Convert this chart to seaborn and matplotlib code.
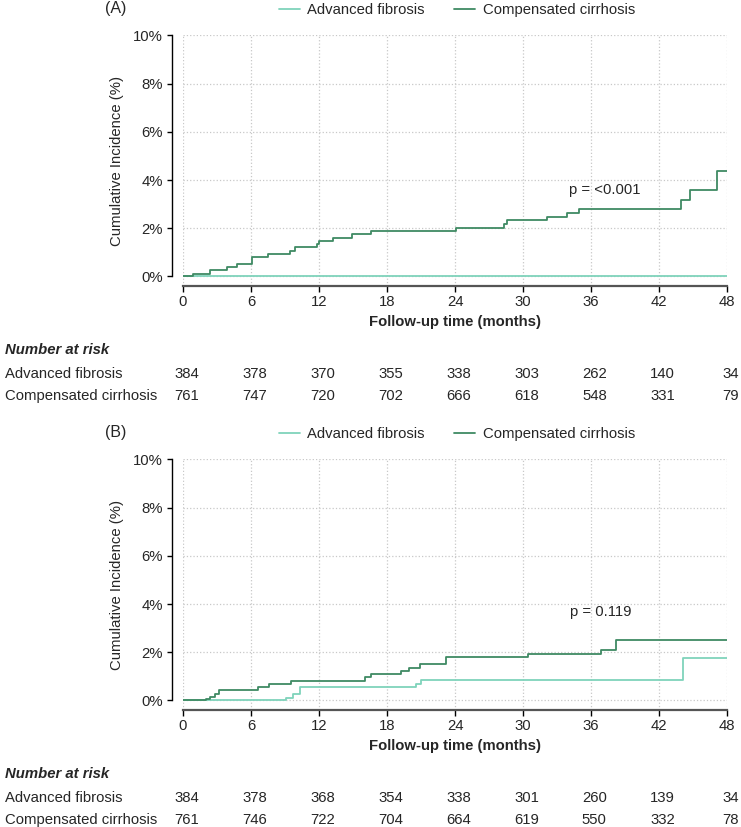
import numpy as np
import pandas as pd
import matplotlib
matplotlib.use("Agg")
import matplotlib.pyplot as plt
import matplotlib.transforms as mtrans
from matplotlib.lines import Line2D
import seaborn as sns

# ---- data ----
groups = ["Advanced fibrosis", "Compensated cirrhosis"]
colors = {"Advanced fibrosis": "#7fd3bb", "Compensated cirrhosis": "#3f8a63"}

# panel A
a_af_t = [0, 48]
a_af_v = [0, 0]
a_cc_t = [0, 0.9, 2.4, 3.9, 4.8, 6.1, 7.5, 9.4, 9.9, 11.8, 12.0, 13.2, 14.9, 16.6,
          24.1, 28.3, 28.6, 32.1, 33.9, 34.9, 43.9, 44.7, 47.1, 48]
a_cc_v = [0, 0.11, 0.25, 0.39, 0.53, 0.80, 0.93, 1.05, 1.20, 1.33, 1.47, 1.60, 1.74, 1.88,
          1.99, 2.16, 2.32, 2.46, 2.63, 2.79, 3.15, 3.57, 4.36, 4.36]
a_pval = "p = <0.001"
a_risk_af = [384, 378, 370, 355, 338, 303, 262, 140, 34]
a_risk_cc = [761, 747, 720, 702, 666, 618, 548, 331, 79]

# panel B
b_af_t = [0, 9.1, 9.7, 10.3, 20.6, 21.0, 44.1, 48]
b_af_v = [0, 0.10, 0.28, 0.55, 0.70, 0.83, 1.77, 1.77]
b_cc_t = [0, 2.0, 2.4, 2.8, 3.2, 6.6, 7.6, 9.5, 16.1, 16.6, 19.2, 19.9, 20.9, 23.2,
          30.4, 36.9, 38.2, 48]
b_cc_v = [0, 0.07, 0.14, 0.28, 0.41, 0.55, 0.69, 0.82, 0.96, 1.10, 1.22, 1.36, 1.49, 1.80,
          1.94, 2.10, 2.49, 2.49]
b_pval = "p = 0.119"
b_risk_af = [384, 378, 368, 354, 338, 301, 260, 139, 34]
b_risk_cc = [761, 746, 722, 704, 664, 619, 550, 332, 78]

xticks = [0, 6, 12, 18, 24, 30, 36, 42, 48]
yticks = [0, 2, 4, 6, 8, 10]

sns.set_theme(style="white")
plt.rcParams["font.family"] = ["Liberation Sans", "DejaVu Sans"]
FS = 10.7
plt.rcParams["font.size"] = FS

W, H = 741, 827
fig = plt.figure(figsize=(W / 100, H / 100), dpi=100)


def fy(px):
    return 1 - px / H


def draw_panel(top_px, tag, af_t, af_v, cc_t, cc_v, pval, p_xy, risk_af, risk_cc):
    bottom_px = top_px + 251
    ax = fig.add_axes([183 / W, fy(bottom_px), 544 / W, 251 / H])
    df = pd.concat([
        pd.DataFrame({"t": af_t, "ci": af_v, "group": groups[0]}),
        pd.DataFrame({"t": cc_t, "ci": cc_v, "group": groups[1]}),
    ])
    sns.lineplot(data=df, x="t", y="ci", hue="group", palette=colors, estimator=None,
                 drawstyle="steps-post", lw=1.3, legend=False, ax=ax, zorder=3)
    ax.set_xlim(0, 48)
    ax.set_ylim(-0.4, 10.02)
    ax.set_xticks(xticks)
    ax.set_yticks(yticks)
    ax.set_yticklabels([f"{v}%" for v in yticks])
    ax.grid(True, ls=":", color="#c8c8c8", lw=0.9)
    for s in ["top", "right"]:
        ax.spines[s].set_visible(False)
    # 11 px offset -> points
    ax.spines["left"].set_position(("outward", 11 * 0.72))
    ax.spines["left"].set_bounds(0, 10)
    ax.spines["left"].set_color("black")
    ax.spines["left"].set_linewidth(1.0)
    ax.spines["bottom"].set_color("#555555")
    ax.spines["bottom"].set_linewidth(1.6)
    ax.tick_params(axis="x", bottom=True, length=4.5, width=1.0, pad=2, labelsize=FS,
                   color="black")
    ax.tick_params(axis="y", left=True, length=3.6, width=1.0, pad=3, labelsize=FS,
                   color="black")
    ax.set_xlabel("Follow-up time (months)", fontweight="bold", fontsize=FS, labelpad=4)
    ax.set_ylabel("Cumulative Incidence (%)", fontsize=FS)
    ax.yaxis.set_label_coords(-0.108, 0.5)
    ax.text(p_xy[0], p_xy[1], pval, ha="center", va="center", fontsize=FS)

    # title tag and legend
    fig.text(116 / W, fy(top_px - 26), tag, ha="center", va="center", fontsize=11.5)
    handles = [Line2D([], [], color=colors[g], lw=1.3) for g in groups]
    fig.legend(handles, groups, loc="center", bbox_to_anchor=(457 / W, fy(top_px - 25)),
               ncol=2, frameon=False, fontsize=FS, handlelength=1.4,
               handletextpad=0.5, columnspacing=2.0)

    # number at risk table
    tr = mtrans.blended_transform_factory(ax.transData, fig.transFigure)
    fig.text(5 / W, fy(top_px + 315), "Number at risk", fontweight="bold",
             fontstyle="italic", va="center", fontsize=FS)
    fig.text(5 / W, fy(top_px + 339), groups[0], va="center", fontsize=FS)
    fig.text(5 / W, fy(top_px + 361), groups[1], va="center", fontsize=FS)
    for x, a, c in zip(xticks, risk_af, risk_cc):
        ax.text(x + 0.3, fy(top_px + 339), str(a), transform=tr, ha="center",
                va="center", fontsize=FS, clip_on=False)
        ax.text(x + 0.3, fy(top_px + 361), str(c), transform=tr, ha="center",
                va="center", fontsize=FS, clip_on=False)
    return ax


draw_panel(35, "(A)", a_af_t, a_af_v, a_cc_t, a_cc_v, a_pval, (37.2, 3.57),
           a_risk_af, a_risk_cc)
draw_panel(459, "(B)", b_af_t, b_af_v, b_cc_t, b_cc_v, b_pval, (36.9, 3.66),
           b_risk_af, b_risk_cc)

fig.savefig("out.png", dpi=100)
